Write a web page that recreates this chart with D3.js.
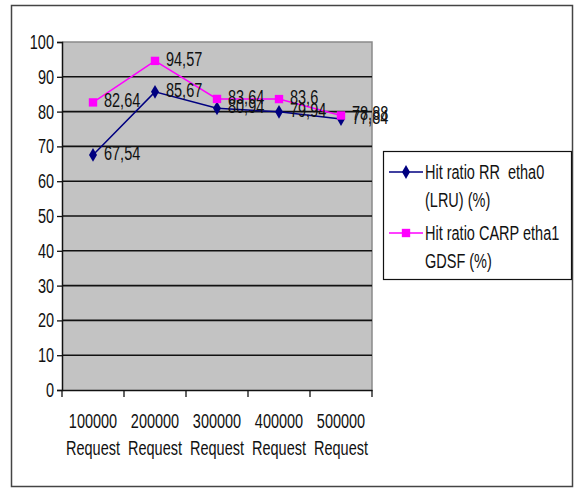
<!DOCTYPE html>
<html>
<head>
<meta charset="utf-8">
<script src="https://cdn.jsdelivr.net/npm/d3@7"></script>
<style>
  html, body { margin: 0; padding: 0; background: #fff; }
  svg text { font-family: "Liberation Sans", Arial, sans-serif; fill: #111; white-space: pre; }
</style>
</head>
<body>
<svg id="chart" width="574" height="489"></svg>
<script>
// Hit ratio per request volume
const categories = ["100000", "200000", "300000", "400000", "500000"];
const categorySuffix = "Request";
const rrValues = [67.54, 85.67, 80.94, 79.94, 77.84];
const carpValues = [82.64, 94.57, 83.64, 83.6, 78.88];
const yTicks = [0, 10, 20, 30, 40, 50, 60, 70, 80, 90, 100];
const legendLabels = [["Hit ratio RR  etha0", "(LRU) (%)"], ["Hit ratio CARP etha1", "GDSF (%)"]];

const svg = d3.select("#chart");
const FS = 14.5, SY = 1.42;   // tall, narrow lettering

function label(g, x, y, str, anchor) {
  return g.append("text")
    .attr("transform", `translate(${x},${y}) scale(1,${SY})`)
    .attr("text-anchor", anchor || "start")
    .attr("font-size", FS)
    .text(str);
}

// outer frame
svg.append("rect").attr("x", 11.5).attr("y", 5.5).attr("width", 561).attr("height", 481)
  .attr("fill", "#fff").attr("stroke", "#444").attr("stroke-width", 1.5);

const plot = { left: 62, right: 372, top: 42, bottom: 390 };

const x = d3.scaleBand().domain(categories).range([plot.left, plot.right]);
const y = d3.scaleLinear().domain([0, 100]).range([plot.bottom, plot.top]);

// plot area
svg.append("rect")
  .attr("x", plot.left).attr("y", plot.top)
  .attr("width", plot.right - plot.left).attr("height", plot.bottom - plot.top)
  .attr("fill", "#c3c3c3");
svg.append("path")
  .attr("d", `M${plot.left},${plot.top}H${plot.right}V${plot.bottom}`)
  .attr("fill", "none").attr("stroke", "#8a8a8a").attr("stroke-width", 1.5);

// gridlines
svg.append("g").selectAll("line").data(yTicks.filter(t => t > 0 && t < 100)).join("line")
  .attr("x1", plot.left).attr("x2", plot.right)
  .attr("y1", d => y(d)).attr("y2", d => y(d))
  .attr("stroke", "#111").attr("stroke-width", 1.6);

// y axis
const yAxis = svg.append("g").attr("transform", `translate(${plot.left},0)`)
  .call(d3.axisLeft(y).tickValues(yTicks).tickSize(5).tickFormat(""));
yAxis.select(".domain").attr("stroke", "#111").attr("stroke-width", 1.5);
yAxis.selectAll(".tick line").attr("stroke", "#111").attr("stroke-width", 1.3);
const yLab = svg.append("g");
yTicks.forEach(t => label(yLab, 54, y(t) + 7, String(t), "end"));

// x axis: ticks sit on band boundaries
const xAxis = svg.append("g").attr("transform", `translate(0,${plot.bottom})`)
  .call(d3.axisBottom(x).tickSize(0).tickFormat(""));
xAxis.select(".domain").attr("stroke", "#111").attr("stroke-width", 1.5);
const bounds = categories.map(c => x(c)).concat([x(categories[categories.length - 1]) + x.bandwidth()]);
svg.append("g").selectAll("line").data(bounds).join("line")
  .attr("x1", d => d).attr("x2", d => d)
  .attr("y1", plot.bottom).attr("y2", plot.bottom + 7)
  .attr("stroke", "#111").attr("stroke-width", 1.3);
const xLab = svg.append("g");
categories.forEach(c => {
  const cx = x(c) + x.bandwidth() / 2;
  label(xLab, cx, 428, c, "middle");
  label(xLab, cx, 455, categorySuffix, "middle");
});

// series
const series = [
  { values: rrValues, color: "#000080", shape: d3.symbolDiamond, size: 55 },
  { values: carpValues, color: "#ff00ff", shape: d3.symbolSquare, size: 70 }
];
const cxOf = i => x(categories[i]) + x.bandwidth() / 2;
const line = d3.line().x((d, i) => cxOf(i)).y(d => y(d));

series.forEach(s => {
  svg.append("path").datum(s.values).attr("d", line)
    .attr("fill", "none").attr("stroke", s.color).attr("stroke-width", 1.5);
  svg.append("g").selectAll("path").data(s.values).join("path")
    .attr("transform", (d, i) => `translate(${cxOf(i)},${y(d)})`)
    .attr("d", d3.symbol().type(s.shape).size(s.size))
    .attr("fill", s.color);
});

// data labels
const dl = svg.append("g");
series.forEach(s => {
  s.values.forEach((v, i) => {
    label(dl, cxOf(i) + 11, y(v) + 5, String(v).replace(".", ","));
  });
});

// legend
svg.append("rect").attr("x", 383.5).attr("y", 151.5).attr("width", 188).attr("height", 128)
  .attr("fill", "#fff").attr("stroke", "#111").attr("stroke-width", 1.2);
const legY = [172, 233];
series.forEach((s, i) => {
  const ly = legY[i];
  svg.append("line").attr("x1", 389).attr("x2", 423).attr("y1", ly).attr("y2", ly)
    .attr("stroke", s.color).attr("stroke-width", 1.5);
  svg.append("path").attr("transform", `translate(406,${ly})`)
    .attr("d", d3.symbol().type(s.shape).size(s.size)).attr("fill", s.color);
  label(svg, 425, ly + 7, legendLabels[i][0]);
  label(svg, 425, ly + 35, legendLabels[i][1]);
});
</script>
</body>
</html>
